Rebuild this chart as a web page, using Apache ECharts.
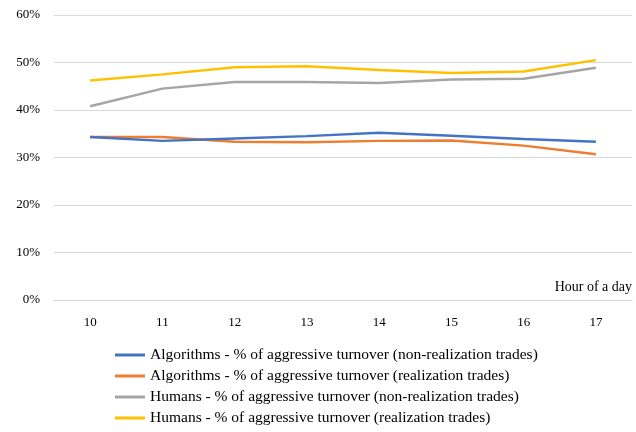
<!DOCTYPE html><html><head><meta charset="utf-8"><script src="https://cdn.jsdelivr.net/npm/echarts@6/dist/echarts.min.js"></script></head><body style="margin:0"><div id="c" style="width:636px;height:432px"></div><script>
const hours=['10','11','12','13','14','15','16','17'];
const algoNon=[34.3,33.5,34.0,34.5,35.2,34.6,33.9,33.3];
const algoReal=[34.3,34.3,33.3,33.2,33.5,33.6,32.5,30.7];
const humNon=[40.8,44.5,45.9,45.9,45.7,46.4,46.6,48.9];
const humReal=[46.2,47.5,49.0,49.2,48.4,47.8,48.1,50.5];
const names=['Algorithms - % of aggressive turnover (non-realization trades)','Algorithms - % of aggressive turnover (realization trades)','Humans - % of aggressive turnover (non-realization trades)','Humans - % of aggressive turnover (realization trades)'];
const colors=['#4472C4','#ED7D31','#A5A5A5','#FFC000'];
const F='Liberation Serif';
const ch=echarts.init(document.getElementById('c'));
ch.setOption({
 textStyle:{fontFamily:F},
 color:colors,
 grid:{left:54,right:4,top:15,bottom:132},
 legend:{orient:'vertical',left:110,top:342,itemGap:5,itemWidth:30,itemHeight:3,icon:'rect',textStyle:{fontFamily:F,fontSize:15.5,color:'#000'},data:names},
 xAxis:{type:'category',data:hours,name:'Hour of a day',nameLocation:'end',nameGap:0,nameTextStyle:{fontFamily:F,fontSize:14,color:'#000',align:'right',verticalAlign:'bottom',padding:[0,0,6,0]},axisLine:{lineStyle:{color:'#d9d9d9'}},axisTick:{show:false},axisLabel:{fontFamily:F,fontSize:13,color:'#000',margin:16}},
 yAxis:{type:'value',min:0,max:60,interval:10,axisLabel:{formatter:'{value}%',fontFamily:F,fontSize:13,color:'#000',margin:14},splitLine:{lineStyle:{color:'#d9d9d9'}},axisLine:{show:false},axisTick:{show:false}},
 series:[algoNon,algoReal,humNon,humReal].map((d,i)=>({name:names[i],type:'line',data:d,symbol:'none',lineStyle:{width:2.5},z:i===0?5:2}))
});
</script></body></html>
